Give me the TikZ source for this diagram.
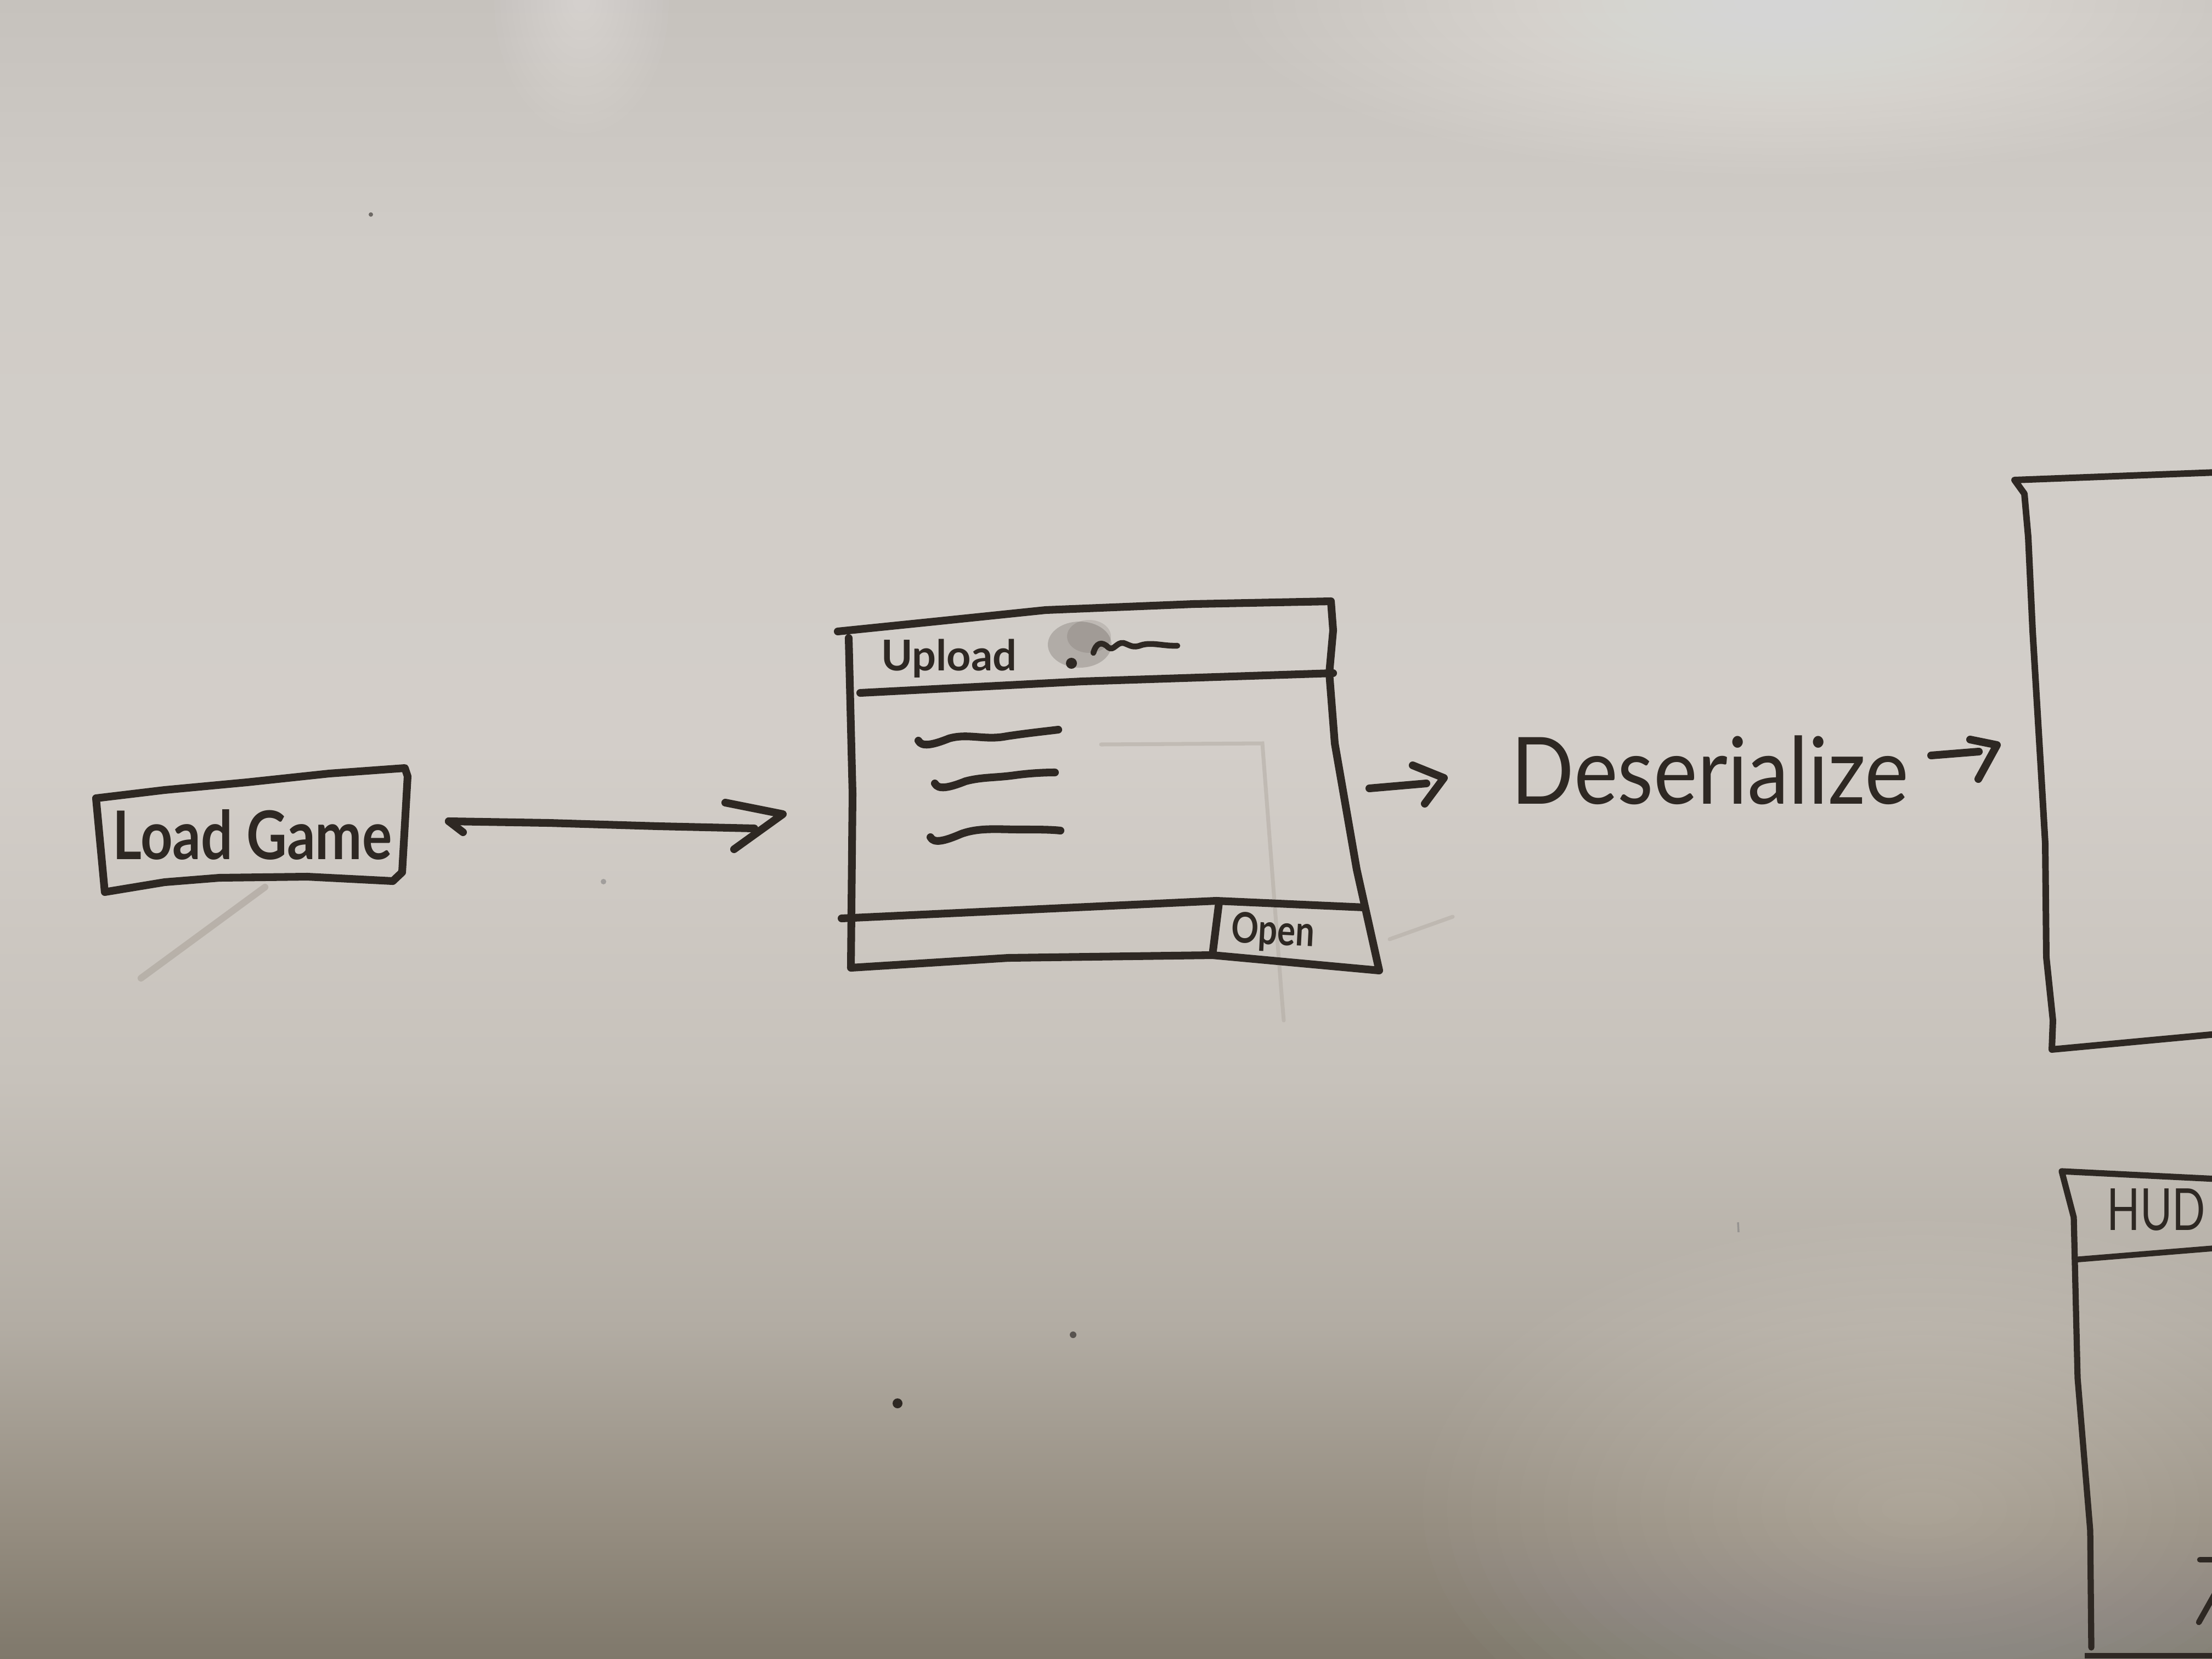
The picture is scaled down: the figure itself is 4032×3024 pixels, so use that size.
\documentclass[tikz,border=0pt]{standalone}
\usepackage{fontspec}
\setmainfont{Lato}
\definecolor{ink}{HTML}{2E2823}
\definecolor{ghost}{HTML}{B3ACA4}
\definecolor{bgA}{HTML}{7F786B}
\definecolor{bgB}{HTML}{958D80}
\definecolor{bgC}{HTML}{B2ACA3}
\definecolor{bgD}{HTML}{C7C2BB}
\definecolor{bgE}{HTML}{D3CEC9}
\definecolor{bgF}{HTML}{D0CCC7}
\definecolor{bgG}{HTML}{C6C2BD}
\pgfdeclareverticalshading{board}{100bp}{color(0bp)=(bgA); color(25bp)=(bgA); color(29bp)=(bgB); color(35bp)=(bgC); color(42.5bp)=(bgD); color(52.5bp)=(bgE); color(67.5bp)=(bgF); color(75bp)=(bgG); color(100bp)=(bgG)}
\tikzset{
  marker/.style={draw=ink, line width=4pt, line cap=round, line join=round},
  thinmarker/.style={draw=ink, line width=3pt, line cap=round, line join=round},
  handtext/.style={text=ink, inner sep=0pt},
  ghostline/.style={draw=ghost, line width=2pt, line cap=round, opacity=0.55}
}
\begin{document}
\begin{tikzpicture}[x=0.01cm, y=-0.01cm]
\useasboundingbox (0,0) rectangle (4032,3024);
% board background
\shade[shading=board] (0,0) rectangle (4032,3024);
\foreach \r in {1,...,24} {
  \fill[white, opacity=0.025] (3250,0) ellipse ({1050-\r*40} and {330-\r*12});
}
\foreach \r in {1,...,14} {
  \fill[white, opacity=0.03] (1060,0) ellipse ({170-\r*11} and {260-\r*17});
}
\foreach \r in {1,...,20} {
  \fill[white, opacity=0.014] (3500,2750) ellipse ({950-\r*44} and {550-\r*26});
}
% faint ghost marks
\draw[ghostline] (2007,1357) -- (2301,1355) -- (2335,1800) -- (2340,1860);
\draw[ghostline] (2533,1712) -- (2648,1671);
\draw[draw=ghost, line width=3.5pt, opacity=0.8, line cap=round] (257,1783) -- (483,1617);
% specks
\fill[ink!70] (676,391) circle (4);
\fill[ink] (1636,2558) circle (9);
\fill[ink!80] (1956,2433) circle (6);
\fill[ink!45] (1100,1607) circle (5);
\draw[ink!50, line width=1pt] (3168,2228) -- (3169,2246);

% ---------- Load Game button ----------
\node[handtext, font=\fontsize{29}{32}\selectfont\bfseries] (loadgame) at (460,1522) {\scalebox{1}[1.2]{Load Game}};
\draw[marker] (191,1626) -- (175,1455) -- (300,1440) -- (450,1426) -- (600,1410) -- (738,1400)
  -- (743,1415) -- (733,1590) -- (716,1606) -- (560,1598) -- (400,1600) -- (300,1608) -- cycle;

% ---------- arrow Load Game -> Upload window ----------
\coordinate (a1s) at (818,1497);
\coordinate (a1e) at (1427,1484);
\draw[marker] (a1s) -- ++(26,20);
\draw[marker] (a1s) -- (1000,1500) -- (1200,1506) -- (1375,1510);
\draw[marker] (1322,1463) -- (a1e) -- (1338,1548);

% ---------- Upload window ----------
\node[handtext, font=\fontsize{22}{26}\selectfont\bfseries] (upload) at (1730,1200) {Upload};
\draw[marker] (1527,1151) -- (1703,1133) -- (1906,1112) -- (2176,1101) -- (2426,1096)
  -- (2430,1149) -- (2423,1227) -- (2433,1355) -- (2473,1585) -- (2514,1769)
  -- (2210,1741) -- (1838,1746) -- (1551,1764) -- (1554,1447) -- (1547,1163);
\draw[marker] (1568,1263) -- (1973,1242) -- (2430,1227);
% smudge, dot and squiggle in title bar
\fill[ink, opacity=0.2] (1968,1175) ellipse (58 and 42);
\fill[ink, opacity=0.12] (1985,1160) ellipse (40 and 30);
\fill[ink] (1953,1209) circle (10);
\draw[thinmarker] (1993,1190) .. controls (1998,1172) and (2008,1168) .. (2020,1180)
  .. controls (2030,1188) and (2035,1170) .. (2048,1172) .. controls (2060,1176) and (2065,1182) .. (2080,1176)
  .. controls (2100,1170) and (2120,1178) .. (2146,1177);
% list lines
\draw[marker] (1674,1350) .. controls (1680,1362) and (1700,1358) .. (1730,1346)
  .. controls (1765,1336) and (1795,1350) .. (1835,1342) .. controls (1875,1336) and (1905,1333) .. (1929,1330);
\draw[marker] (1704,1428) .. controls (1710,1440) and (1730,1436) .. (1760,1424)
  .. controls (1790,1416) and (1815,1418) .. (1850,1413) .. controls (1880,1409) and (1905,1408) .. (1923,1408);
\draw[marker] (1696,1526) .. controls (1702,1538) and (1722,1533) .. (1752,1520)
  .. controls (1785,1508) and (1820,1512) .. (1860,1512) .. controls (1890,1512) and (1915,1512) .. (1933,1514);
% footer
\draw[marker] (1534,1674) -- (2217,1642) -- (2487,1654);
\draw[marker] (2222,1645) -- (2210,1741);
\node[handtext, font=\fontsize{17.5}{20}\selectfont\bfseries, rotate=-3] (open) at (2320,1700) {\scalebox{1}[1.25]{Open}};

% ---------- arrow -> Deserialize -> ----------
\coordinate (a2s) at (2496,1437);
\coordinate (a2e) at (2632,1418);
\draw[marker] (a2s) -- (2600,1428);
\draw[marker] (2575,1395) -- (a2e) -- (2597,1465);
\node[handtext, font=\fontsize{43}{46}\selectfont] (deser) at (3117,1404) {\scalebox{1}[1.12]{Deserialize}};
\coordinate (a3s) at (3520,1377);
\coordinate (a3e) at (3640,1358);
\draw[marker] (a3s) -- (3607,1370);
\draw[marker] (3591,1348) -- (a3e) -- (3606,1420);

% ---------- game screen frame (right) ----------
\draw[draw=ink, line width=3.4pt, line cap=round, line join=round]
  (4040,861) -- (3672,875) -- (3690,900) -- (3697,979) -- (3705,1150) -- (3720,1400)
  -- (3728,1537) -- (3730,1745) -- (3742,1860) -- (3740,1913) -- (4040,1885);

% ---------- HUD frame ----------
\draw[draw=ink, line width=3.2pt, line cap=round, line join=round]
  (4040,2149) -- (3758,2135) -- (3780,2219) -- (3787,2512) -- (3810,2790) -- (3812,3003);
\draw[draw=ink, line width=3pt, line cap=round] (3783,2296) -- (4040,2275);
\node[handtext, font=\fontsize{21.5}{24}\selectfont] (hud) at (3930,2205) {\scalebox{1.05}[1.4]{HUD}};
\draw[draw=ink, line width=3pt] (3800,3018) -- (4040,3018);
\draw[draw=ink, line width=3pt, line cap=round] (4010,2843) -- (4040,2843);
\draw[draw=ink, line width=3pt, line cap=round] (4008,2957) -- (4040,2900);
\end{tikzpicture}
\end{document}
